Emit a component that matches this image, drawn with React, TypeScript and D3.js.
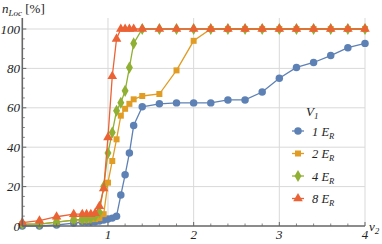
import * as d3 from "d3";

// shared v2 sampling points
const v2Values = [
  0, 0.2, 0.4, 0.6, 0.7, 0.75, 0.8, 0.85, 0.9, 0.95, 1, 1.05, 1.1, 1.15, 1.2,
  1.25, 1.3, 1.4, 1.6, 1.8, 2, 2.2, 2.4, 2.6, 2.8, 3, 3.2, 3.4, 3.6, 3.8, 4,
];

const nLoc1 = [
  0, 0, 0.5, 1.5, 2, 2, 2, 2.2, 2.5, 3, 3.5, 4, 5, 15.7, 26, 37, 51, 60.5, 62,
  62.5, 62.5, 62.5, 64, 64, 68, 75, 80.5, 83, 86.5, 90.5, 92.7,
];
const nLoc2 = [
  1, 1, 2, 3, 3, 3, 3.5, 3.5, 4, 6, 22, 33, 44, 56, 59.5, 62, 64.3, 66, 67, 79,
  94, 100, 100, 100, 100, 100, 100, 100, 100, 100, 100,
];
const nLoc4 = [
  1, 1, 2, 3, 3.5, 4, 4, 5, 7, 20, 37, 47.5, 58.5, 62.6, 68.6, 80.4, 92.7, 100,
  100, 100, 100, 100, 100, 100, 100, 100, 100, 100, 100, 100, 100,
];
const nLoc8 = [
  1.7, 2.7, 4.7, 6, 6, 6, 6, 6.5, 10, 19, 45, 76, 95, 100, 100, 100, 100, 100,
  100, 100, 100, 100, 100, 100, 100, 100, 100, 100, 100, 100, 100,
];

const seriesLabels = ["1", "2", "4", "8"];
const xTicks = [1, 2, 3, 4];
const yTicks = [0, 20, 40, 60, 80, 100];

const colors = ["#5e81b5", "#e19c24", "#8fb032", "#eb6235"];
const shapes = [d3.symbolCircle, d3.symbolSquare, d3.symbolDiamond, d3.symbolTriangle];
const sizes = [44, 36, 42, 40];

const W = 382,
  H = 244;
const x = d3.scaleLinear().domain([0, 4]).range([22.3, 365]);
const y = d3.scaleLinear().domain([0, 100]).range([226, 29]);
const yTop = y(105.6);

const font = "'Liberation Serif', 'DejaVu Serif', serif";

export default function App() {
  const all = [nLoc1, nLoc2, nLoc4, nLoc8];
  const line = d3
    .line<[number, number]>()
    .x((d) => x(d[0]))
    .y((d) => y(d[1]));

  const minorX = d3.range(0.2, 4.01, 0.2).filter((v) => Math.abs(v - Math.round(v)) > 0.01);
  const minorY = d3.range(5, 105, 5).filter((v) => v % 20 !== 0);

  return (
    <svg
      width={W}
      height={H}
      style={{ position: "absolute", left: 0, top: 0, background: "#fff" }}
      fontFamily={font}
    >
      {/* gridlines */}
      {xTicks.map((t) => (
        <line key={"gx" + t} x1={x(t)} x2={x(t)} y1={yTop} y2={y(0)} stroke="#d9d9d9" strokeWidth={1} />
      ))}
      {yTicks.slice(1).map((t) => (
        <line key={"gy" + t} x1={x(0)} x2={x(4)} y1={y(t)} y2={y(t)} stroke="#d9d9d9" strokeWidth={1} />
      ))}

      {/* series */}
      {all.map((vals, i) => {
        const pts = v2Values.map((v, j) => [v, vals[j]] as [number, number]);
        const sym = d3.symbol().type(shapes[i]).size(sizes[i])();
        return (
          <g key={"s" + i}>
            <path d={line(pts) || ""} fill="none" stroke={colors[i]} strokeWidth={1.3} />
            {pts.map((p, j) => (
              <path
                key={j}
                d={sym || ""}
                transform={`translate(${x(p[0])},${y(p[1])})`}
                fill={colors[i]}
              />
            ))}
          </g>
        );
      })}

      {/* axes */}
      <line x1={x(0)} x2={x(4)} y1={y(0)} y2={y(0)} stroke="#666" strokeWidth={1.6} />
      <line x1={x(0)} x2={x(0)} y1={y(0)} y2={yTop} stroke="#666" strokeWidth={1.6} />
      {xTicks.map((t) => (
        <line key={"tx" + t} x1={x(t)} x2={x(t)} y1={y(0)} y2={y(0) - 4} stroke="#666" strokeWidth={1} />
      ))}
      {minorX.map((t) => (
        <line key={"mx" + t} x1={x(t)} x2={x(t)} y1={y(0)} y2={y(0) - 2.5} stroke="#666" strokeWidth={0.8} />
      ))}
      {yTicks.map((t) => (
        <line key={"ty" + t} x1={x(0)} x2={x(0) + 4} y1={y(t)} y2={y(t)} stroke="#666" strokeWidth={1} />
      ))}
      {minorY.map((t) => (
        <line key={"my" + t} x1={x(0)} x2={x(0) + 2.5} y1={y(t)} y2={y(t)} stroke="#666" strokeWidth={0.8} />
      ))}

      {/* tick labels */}
      {xTicks.map((t) => (
        <text key={"lx" + t} x={x(t)} y={239} textAnchor="middle" fontSize={13} fontStyle="italic" fill="#222">
          {t}
        </text>
      ))}
      {yTicks.map((t) => (
        <text key={"ly" + t} x={20} y={y(t) + 4.5} textAnchor="end" fontSize={13} fontStyle="italic" fill="#222">
          {t}
        </text>
      ))}

      {/* axis labels */}
      <text x={2} y={13} fontSize={13} fill="#222">
        <tspan fontStyle="italic">n</tspan>
        <tspan fontStyle="italic" fontSize={9} dy={3}>Loc</tspan>
        <tspan dy={-3}> [%]</tspan>
      </text>
      <text x={369} y={231} fontSize={13} fill="#222" fontStyle="italic">
        v<tspan fontSize={9} dy={3}>2</tspan>
      </text>

      {/* legend */}
      <text x={306} y={116} fontSize={13} fontStyle="italic" fill="#222">
        V<tspan fontSize={9} dy={3}>1</tspan>
      </text>
      {seriesLabels.map((lab, i) => {
        const ly = 131 + i * 22.5;
        const sym = d3.symbol().type(shapes[i]).size(sizes[i])();
        return (
          <g key={"lg" + i}>
            <line x1={292} x2={304} y1={ly} y2={ly} stroke={colors[i]} strokeWidth={1.3} />
            <path d={sym || ""} transform={`translate(298,${ly})`} fill={colors[i]} />
            <text x={312} y={ly + 4.5} fontSize={12.5} fontStyle="italic" fill="#222">
              {lab} E<tspan fontSize={8.5} dy={3}>R</tspan>
            </text>
          </g>
        );
      })}
    </svg>
  );
}
